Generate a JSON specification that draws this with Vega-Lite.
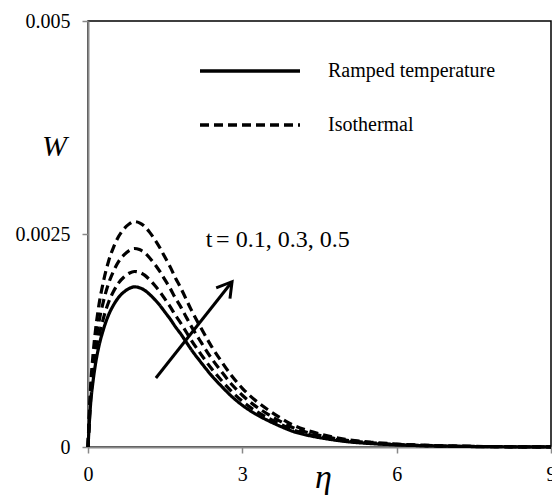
{
  "$schema": "https://vega.github.io/schema/vega-lite/v6.json",
  "width": 463,
  "height": 426,
  "autosize": {"type": "none"},
  "padding": {"left": 88, "top": 21, "right": 1, "bottom": 50},
  "background": "white",
  "config": {
    "view": {"stroke": "black", "strokeWidth": 1.5},
    "font": "Liberation Serif",
    "axis": {
      "grid": false,
      "labelFont": "Liberation Serif",
      "labelFontSize": 20,
      "labelColor": "black",
      "tickColor": "#888888",
      "tickSize": 6,
      "tickWidth": 1.5,
      "domainColor": "#888888",
      "domainWidth": 2,
      "titleFont": "Liberation Serif",
      "titleFontStyle": "italic",
      "titleFontWeight": "normal",
      "titleColor": "black"
    },
    "legend": {
      "orient": "none",
      "legendX": 150,
      "legendY": 38,
      "padding": 0,
      "title": null,
      "symbolType": "M-5,0L5,0",
      "symbolSize": 400,
      "symbolStrokeColor": "black",
      "symbolStrokeWidth": 3.5,
      "labelFont": "Liberation Serif",
      "labelFontSize": 20,
      "labelColor": "black",
      "labelLimit": 400,
      "labelOffset": 66,
      "rowPadding": 32
    }
  },
  "datasets": {
    "curves": [
      {"curve": "Ramped", "type": "Ramped temperature", "eta": 0, "W": 0},
      {"curve": "Ramped", "type": "Ramped temperature", "eta": 0.05, "W": 0.0005},
      {"curve": "Ramped", "type": "Ramped temperature", "eta": 0.1, "W": 0.00078},
      {"curve": "Ramped", "type": "Ramped temperature", "eta": 0.15, "W": 0.00099},
      {"curve": "Ramped", "type": "Ramped temperature", "eta": 0.2, "W": 0.00115},
      {"curve": "Ramped", "type": "Ramped temperature", "eta": 0.3, "W": 0.00138},
      {"curve": "Ramped", "type": "Ramped temperature", "eta": 0.4, "W": 0.00155},
      {"curve": "Ramped", "type": "Ramped temperature", "eta": 0.5, "W": 0.00167},
      {"curve": "Ramped", "type": "Ramped temperature", "eta": 0.6, "W": 0.00176},
      {"curve": "Ramped", "type": "Ramped temperature", "eta": 0.7, "W": 0.00182},
      {"curve": "Ramped", "type": "Ramped temperature", "eta": 0.8, "W": 0.00186},
      {"curve": "Ramped", "type": "Ramped temperature", "eta": 0.9, "W": 0.00188},
      {"curve": "Ramped", "type": "Ramped temperature", "eta": 1.0, "W": 0.00187},
      {"curve": "Ramped", "type": "Ramped temperature", "eta": 1.1, "W": 0.00184},
      {"curve": "Ramped", "type": "Ramped temperature", "eta": 1.2, "W": 0.00179},
      {"curve": "Ramped", "type": "Ramped temperature", "eta": 1.3, "W": 0.00173},
      {"curve": "Ramped", "type": "Ramped temperature", "eta": 1.4, "W": 0.00166},
      {"curve": "Ramped", "type": "Ramped temperature", "eta": 1.5, "W": 0.00158},
      {"curve": "Ramped", "type": "Ramped temperature", "eta": 1.6, "W": 0.0015},
      {"curve": "Ramped", "type": "Ramped temperature", "eta": 1.7, "W": 0.00141},
      {"curve": "Ramped", "type": "Ramped temperature", "eta": 1.8, "W": 0.00133},
      {"curve": "Ramped", "type": "Ramped temperature", "eta": 1.9, "W": 0.00124},
      {"curve": "Ramped", "type": "Ramped temperature", "eta": 2.0, "W": 0.00115},
      {"curve": "Ramped", "type": "Ramped temperature", "eta": 2.2, "W": 0.00099},
      {"curve": "Ramped", "type": "Ramped temperature", "eta": 2.4, "W": 0.00084},
      {"curve": "Ramped", "type": "Ramped temperature", "eta": 2.6, "W": 0.00071},
      {"curve": "Ramped", "type": "Ramped temperature", "eta": 2.8, "W": 0.00059},
      {"curve": "Ramped", "type": "Ramped temperature", "eta": 3.0, "W": 0.00049},
      {"curve": "Ramped", "type": "Ramped temperature", "eta": 3.25, "W": 0.00039},
      {"curve": "Ramped", "type": "Ramped temperature", "eta": 3.5, "W": 0.00031},
      {"curve": "Ramped", "type": "Ramped temperature", "eta": 3.75, "W": 0.00024},
      {"curve": "Ramped", "type": "Ramped temperature", "eta": 4.0, "W": 0.00018},
      {"curve": "Ramped", "type": "Ramped temperature", "eta": 4.25, "W": 0.00014},
      {"curve": "Ramped", "type": "Ramped temperature", "eta": 4.5, "W": 0.00011},
      {"curve": "Ramped", "type": "Ramped temperature", "eta": 5.0, "W": 0.000065},
      {"curve": "Ramped", "type": "Ramped temperature", "eta": 5.5, "W": 0.00004},
      {"curve": "Ramped", "type": "Ramped temperature", "eta": 6.0, "W": 0.000025},
      {"curve": "Ramped", "type": "Ramped temperature", "eta": 6.5, "W": 0.000015},
      {"curve": "Ramped", "type": "Ramped temperature", "eta": 7.0, "W": 0.000009},
      {"curve": "Ramped", "type": "Ramped temperature", "eta": 8.0, "W": 0.000003},
      {"curve": "Ramped", "type": "Ramped temperature", "eta": 9.0, "W": 0.000001},

      {"curve": "Isothermal t=0.1", "type": "Isothermal", "eta": 0, "W": 0},
      {"curve": "Isothermal t=0.1", "type": "Isothermal", "eta": 0.05, "W": 0.000548},
      {"curve": "Isothermal t=0.1", "type": "Isothermal", "eta": 0.1, "W": 0.000855},
      {"curve": "Isothermal t=0.1", "type": "Isothermal", "eta": 0.15, "W": 0.001085},
      {"curve": "Isothermal t=0.1", "type": "Isothermal", "eta": 0.2, "W": 0.00126},
      {"curve": "Isothermal t=0.1", "type": "Isothermal", "eta": 0.3, "W": 0.001512},
      {"curve": "Isothermal t=0.1", "type": "Isothermal", "eta": 0.4, "W": 0.001699},
      {"curve": "Isothermal t=0.1", "type": "Isothermal", "eta": 0.5, "W": 0.00183},
      {"curve": "Isothermal t=0.1", "type": "Isothermal", "eta": 0.6, "W": 0.001929},
      {"curve": "Isothermal t=0.1", "type": "Isothermal", "eta": 0.7, "W": 0.001995},
      {"curve": "Isothermal t=0.1", "type": "Isothermal", "eta": 0.8, "W": 0.002039},
      {"curve": "Isothermal t=0.1", "type": "Isothermal", "eta": 0.9, "W": 0.00206},
      {"curve": "Isothermal t=0.1", "type": "Isothermal", "eta": 1.0, "W": 0.00205},
      {"curve": "Isothermal t=0.1", "type": "Isothermal", "eta": 1.1, "W": 0.002017},
      {"curve": "Isothermal t=0.1", "type": "Isothermal", "eta": 1.2, "W": 0.001962},
      {"curve": "Isothermal t=0.1", "type": "Isothermal", "eta": 1.3, "W": 0.001896},
      {"curve": "Isothermal t=0.1", "type": "Isothermal", "eta": 1.4, "W": 0.001819},
      {"curve": "Isothermal t=0.1", "type": "Isothermal", "eta": 1.5, "W": 0.001732},
      {"curve": "Isothermal t=0.1", "type": "Isothermal", "eta": 1.6, "W": 0.001644},
      {"curve": "Isothermal t=0.1", "type": "Isothermal", "eta": 1.7, "W": 0.001545},
      {"curve": "Isothermal t=0.1", "type": "Isothermal", "eta": 1.8, "W": 0.001458},
      {"curve": "Isothermal t=0.1", "type": "Isothermal", "eta": 1.9, "W": 0.001359},
      {"curve": "Isothermal t=0.1", "type": "Isothermal", "eta": 2.0, "W": 0.00126},
      {"curve": "Isothermal t=0.1", "type": "Isothermal", "eta": 2.2, "W": 0.001085},
      {"curve": "Isothermal t=0.1", "type": "Isothermal", "eta": 2.4, "W": 0.000921},
      {"curve": "Isothermal t=0.1", "type": "Isothermal", "eta": 2.6, "W": 0.000778},
      {"curve": "Isothermal t=0.1", "type": "Isothermal", "eta": 2.8, "W": 0.000647},
      {"curve": "Isothermal t=0.1", "type": "Isothermal", "eta": 3.0, "W": 0.000537},
      {"curve": "Isothermal t=0.1", "type": "Isothermal", "eta": 3.25, "W": 0.000427},
      {"curve": "Isothermal t=0.1", "type": "Isothermal", "eta": 3.5, "W": 0.00034},
      {"curve": "Isothermal t=0.1", "type": "Isothermal", "eta": 3.75, "W": 0.000263},
      {"curve": "Isothermal t=0.1", "type": "Isothermal", "eta": 4.0, "W": 0.000197},
      {"curve": "Isothermal t=0.1", "type": "Isothermal", "eta": 4.25, "W": 0.000153},
      {"curve": "Isothermal t=0.1", "type": "Isothermal", "eta": 4.5, "W": 0.000121},
      {"curve": "Isothermal t=0.1", "type": "Isothermal", "eta": 5.0, "W": 0.000071},
      {"curve": "Isothermal t=0.1", "type": "Isothermal", "eta": 5.5, "W": 0.000044},
      {"curve": "Isothermal t=0.1", "type": "Isothermal", "eta": 6.0, "W": 0.000027},
      {"curve": "Isothermal t=0.1", "type": "Isothermal", "eta": 6.5, "W": 0.000016},
      {"curve": "Isothermal t=0.1", "type": "Isothermal", "eta": 7.0, "W": 0.00001},
      {"curve": "Isothermal t=0.1", "type": "Isothermal", "eta": 8.0, "W": 0.000003},
      {"curve": "Isothermal t=0.1", "type": "Isothermal", "eta": 9.0, "W": 0.000001},

      {"curve": "Isothermal t=0.3", "type": "Isothermal", "eta": 0, "W": 0},
      {"curve": "Isothermal t=0.3", "type": "Isothermal", "eta": 0.05, "W": 0.00062},
      {"curve": "Isothermal t=0.3", "type": "Isothermal", "eta": 0.1, "W": 0.000966},
      {"curve": "Isothermal t=0.3", "type": "Isothermal", "eta": 0.15, "W": 0.001227},
      {"curve": "Isothermal t=0.3", "type": "Isothermal", "eta": 0.2, "W": 0.001425},
      {"curve": "Isothermal t=0.3", "type": "Isothermal", "eta": 0.3, "W": 0.00171},
      {"curve": "Isothermal t=0.3", "type": "Isothermal", "eta": 0.4, "W": 0.00192},
      {"curve": "Isothermal t=0.3", "type": "Isothermal", "eta": 0.5, "W": 0.002069},
      {"curve": "Isothermal t=0.3", "type": "Isothermal", "eta": 0.6, "W": 0.002181},
      {"curve": "Isothermal t=0.3", "type": "Isothermal", "eta": 0.7, "W": 0.002255},
      {"curve": "Isothermal t=0.3", "type": "Isothermal", "eta": 0.8, "W": 0.002305},
      {"curve": "Isothermal t=0.3", "type": "Isothermal", "eta": 0.9, "W": 0.00233},
      {"curve": "Isothermal t=0.3", "type": "Isothermal", "eta": 1.0, "W": 0.002317},
      {"curve": "Isothermal t=0.3", "type": "Isothermal", "eta": 1.1, "W": 0.00228},
      {"curve": "Isothermal t=0.3", "type": "Isothermal", "eta": 1.2, "W": 0.002218},
      {"curve": "Isothermal t=0.3", "type": "Isothermal", "eta": 1.3, "W": 0.002143},
      {"curve": "Isothermal t=0.3", "type": "Isothermal", "eta": 1.4, "W": 0.002057},
      {"curve": "Isothermal t=0.3", "type": "Isothermal", "eta": 1.5, "W": 0.001958},
      {"curve": "Isothermal t=0.3", "type": "Isothermal", "eta": 1.6, "W": 0.001859},
      {"curve": "Isothermal t=0.3", "type": "Isothermal", "eta": 1.7, "W": 0.001747},
      {"curve": "Isothermal t=0.3", "type": "Isothermal", "eta": 1.8, "W": 0.001648},
      {"curve": "Isothermal t=0.3", "type": "Isothermal", "eta": 1.9, "W": 0.001536},
      {"curve": "Isothermal t=0.3", "type": "Isothermal", "eta": 2.0, "W": 0.001425},
      {"curve": "Isothermal t=0.3", "type": "Isothermal", "eta": 2.2, "W": 0.001227},
      {"curve": "Isothermal t=0.3", "type": "Isothermal", "eta": 2.4, "W": 0.001041},
      {"curve": "Isothermal t=0.3", "type": "Isothermal", "eta": 2.6, "W": 0.00088},
      {"curve": "Isothermal t=0.3", "type": "Isothermal", "eta": 2.8, "W": 0.000731},
      {"curve": "Isothermal t=0.3", "type": "Isothermal", "eta": 3.0, "W": 0.000607},
      {"curve": "Isothermal t=0.3", "type": "Isothermal", "eta": 3.25, "W": 0.000483},
      {"curve": "Isothermal t=0.3", "type": "Isothermal", "eta": 3.5, "W": 0.000384},
      {"curve": "Isothermal t=0.3", "type": "Isothermal", "eta": 3.75, "W": 0.000297},
      {"curve": "Isothermal t=0.3", "type": "Isothermal", "eta": 4.0, "W": 0.000223},
      {"curve": "Isothermal t=0.3", "type": "Isothermal", "eta": 4.25, "W": 0.000173},
      {"curve": "Isothermal t=0.3", "type": "Isothermal", "eta": 4.5, "W": 0.000136},
      {"curve": "Isothermal t=0.3", "type": "Isothermal", "eta": 5.0, "W": 0.000081},
      {"curve": "Isothermal t=0.3", "type": "Isothermal", "eta": 5.5, "W": 0.00005},
      {"curve": "Isothermal t=0.3", "type": "Isothermal", "eta": 6.0, "W": 0.000031},
      {"curve": "Isothermal t=0.3", "type": "Isothermal", "eta": 6.5, "W": 0.000019},
      {"curve": "Isothermal t=0.3", "type": "Isothermal", "eta": 7.0, "W": 0.000011},
      {"curve": "Isothermal t=0.3", "type": "Isothermal", "eta": 8.0, "W": 0.000004},
      {"curve": "Isothermal t=0.3", "type": "Isothermal", "eta": 9.0, "W": 0.000001},

      {"curve": "Isothermal t=0.5", "type": "Isothermal", "eta": 0, "W": 0},
      {"curve": "Isothermal t=0.5", "type": "Isothermal", "eta": 0.05, "W": 0.000704},
      {"curve": "Isothermal t=0.5", "type": "Isothermal", "eta": 0.1, "W": 0.001097},
      {"curve": "Isothermal t=0.5", "type": "Isothermal", "eta": 0.15, "W": 0.001393},
      {"curve": "Isothermal t=0.5", "type": "Isothermal", "eta": 0.2, "W": 0.001618},
      {"curve": "Isothermal t=0.5", "type": "Isothermal", "eta": 0.3, "W": 0.001942},
      {"curve": "Isothermal t=0.5", "type": "Isothermal", "eta": 0.4, "W": 0.002181},
      {"curve": "Isothermal t=0.5", "type": "Isothermal", "eta": 0.5, "W": 0.00235},
      {"curve": "Isothermal t=0.5", "type": "Isothermal", "eta": 0.6, "W": 0.002476},
      {"curve": "Isothermal t=0.5", "type": "Isothermal", "eta": 0.7, "W": 0.002561},
      {"curve": "Isothermal t=0.5", "type": "Isothermal", "eta": 0.8, "W": 0.002617},
      {"curve": "Isothermal t=0.5", "type": "Isothermal", "eta": 0.9, "W": 0.002645},
      {"curve": "Isothermal t=0.5", "type": "Isothermal", "eta": 1.0, "W": 0.002631},
      {"curve": "Isothermal t=0.5", "type": "Isothermal", "eta": 1.1, "W": 0.002589},
      {"curve": "Isothermal t=0.5", "type": "Isothermal", "eta": 1.2, "W": 0.002519},
      {"curve": "Isothermal t=0.5", "type": "Isothermal", "eta": 1.3, "W": 0.002434},
      {"curve": "Isothermal t=0.5", "type": "Isothermal", "eta": 1.4, "W": 0.002336},
      {"curve": "Isothermal t=0.5", "type": "Isothermal", "eta": 1.5, "W": 0.002223},
      {"curve": "Isothermal t=0.5", "type": "Isothermal", "eta": 1.6, "W": 0.002111},
      {"curve": "Isothermal t=0.5", "type": "Isothermal", "eta": 1.7, "W": 0.001984},
      {"curve": "Isothermal t=0.5", "type": "Isothermal", "eta": 1.8, "W": 0.001871},
      {"curve": "Isothermal t=0.5", "type": "Isothermal", "eta": 1.9, "W": 0.001745},
      {"curve": "Isothermal t=0.5", "type": "Isothermal", "eta": 2.0, "W": 0.001618},
      {"curve": "Isothermal t=0.5", "type": "Isothermal", "eta": 2.2, "W": 0.001393},
      {"curve": "Isothermal t=0.5", "type": "Isothermal", "eta": 2.4, "W": 0.001182},
      {"curve": "Isothermal t=0.5", "type": "Isothermal", "eta": 2.6, "W": 0.000999},
      {"curve": "Isothermal t=0.5", "type": "Isothermal", "eta": 2.8, "W": 0.00083},
      {"curve": "Isothermal t=0.5", "type": "Isothermal", "eta": 3.0, "W": 0.000689},
      {"curve": "Isothermal t=0.5", "type": "Isothermal", "eta": 3.25, "W": 0.000549},
      {"curve": "Isothermal t=0.5", "type": "Isothermal", "eta": 3.5, "W": 0.000436},
      {"curve": "Isothermal t=0.5", "type": "Isothermal", "eta": 3.75, "W": 0.000338},
      {"curve": "Isothermal t=0.5", "type": "Isothermal", "eta": 4.0, "W": 0.000253},
      {"curve": "Isothermal t=0.5", "type": "Isothermal", "eta": 4.25, "W": 0.000197},
      {"curve": "Isothermal t=0.5", "type": "Isothermal", "eta": 4.5, "W": 0.000155},
      {"curve": "Isothermal t=0.5", "type": "Isothermal", "eta": 5.0, "W": 0.000091},
      {"curve": "Isothermal t=0.5", "type": "Isothermal", "eta": 5.5, "W": 0.000056},
      {"curve": "Isothermal t=0.5", "type": "Isothermal", "eta": 6.0, "W": 0.000035},
      {"curve": "Isothermal t=0.5", "type": "Isothermal", "eta": 6.5, "W": 0.000021},
      {"curve": "Isothermal t=0.5", "type": "Isothermal", "eta": 7.0, "W": 0.000013},
      {"curve": "Isothermal t=0.5", "type": "Isothermal", "eta": 8.0, "W": 0.000004},
      {"curve": "Isothermal t=0.5", "type": "Isothermal", "eta": 9.0, "W": 0.000001}
    ],
    "arrow": [
      {"eta": 1.32, "W": 0.00081, "eta2": 2.8, "W2": 0.00194}
    ],
    "labels": [
      {"eta": 2.29, "W": 0.00235, "text": "t", "style": "italic"},
      {"eta": 2.49, "W": 0.00235, "text": "= 0.1, 0.3, 0.5", "style": "normal"}
    ]
  },
  "layer": [
    {
      "data": {"name": "curves"},
      "mark": {"type": "line", "color": "black", "strokeWidth": 3.2, "interpolate": "monotone", "strokeCap": "butt"},
      "encoding": {
        "x": {
          "field": "eta", "type": "quantitative",
          "scale": {"domain": [0, 9], "nice": false},
          "axis": {"values": [0, 3, 6, 9], "format": "d", "labelFlush": false, "labelPadding": 11, "title": "η", "titleFontSize": 34, "titleY": 40, "titleX": 235, "titleBaseline": "alphabetic", "titleAlign": "center"}
        },
        "y": {
          "field": "W", "type": "quantitative",
          "scale": {"domain": [0, 0.005], "nice": false},
          "axis": {"values": [0, 0.0025, 0.005], "format": "~g", "labelFlush": false, "labelPadding": 12, "title": "W", "titleFontSize": 30, "titleAngle": 0, "titleX": -34, "titleY": 134, "titleAlign": "center", "titleBaseline": "alphabetic"}
        },
        "detail": {"field": "curve", "type": "nominal"},
        "strokeDash": {
          "field": "type", "type": "nominal",
          "scale": {"domain": ["Ramped temperature", "Isothermal"], "range": [[1, 0], [9, 5]]},
          "legend": {"title": null}
        }
      }
    },
    {
      "data": {"name": "arrow"},
      "mark": {"type": "rule", "color": "black", "strokeWidth": 3},
      "encoding": {
        "x": {"field": "eta", "type": "quantitative"},
        "y": {"field": "W", "type": "quantitative"},
        "x2": {"field": "eta2"},
        "y2": {"field": "W2"}
      }
    },
    {
      "data": {"name": "arrow"},
      "mark": {"type": "point", "shape": "M-0.6,1L0,0L0.6,1", "size": 850, "angle": 38, "filled": false, "stroke": "black", "strokeWidth": 3, "opacity": 1},
      "encoding": {
        "x": {"field": "eta2", "type": "quantitative"},
        "y": {"field": "W2", "type": "quantitative"}
      }
    },
    {
      "data": {"name": "labels"},
      "mark": {"type": "text", "font": "Liberation Serif", "fontSize": 24, "align": "left", "baseline": "alphabetic", "color": "black"},
      "encoding": {
        "x": {"field": "eta", "type": "quantitative"},
        "y": {"field": "W", "type": "quantitative"},
        "text": {"field": "text"},
        "fontStyle": {"field": "style", "type": "nominal", "scale": null}
      }
    }
  ]
}
